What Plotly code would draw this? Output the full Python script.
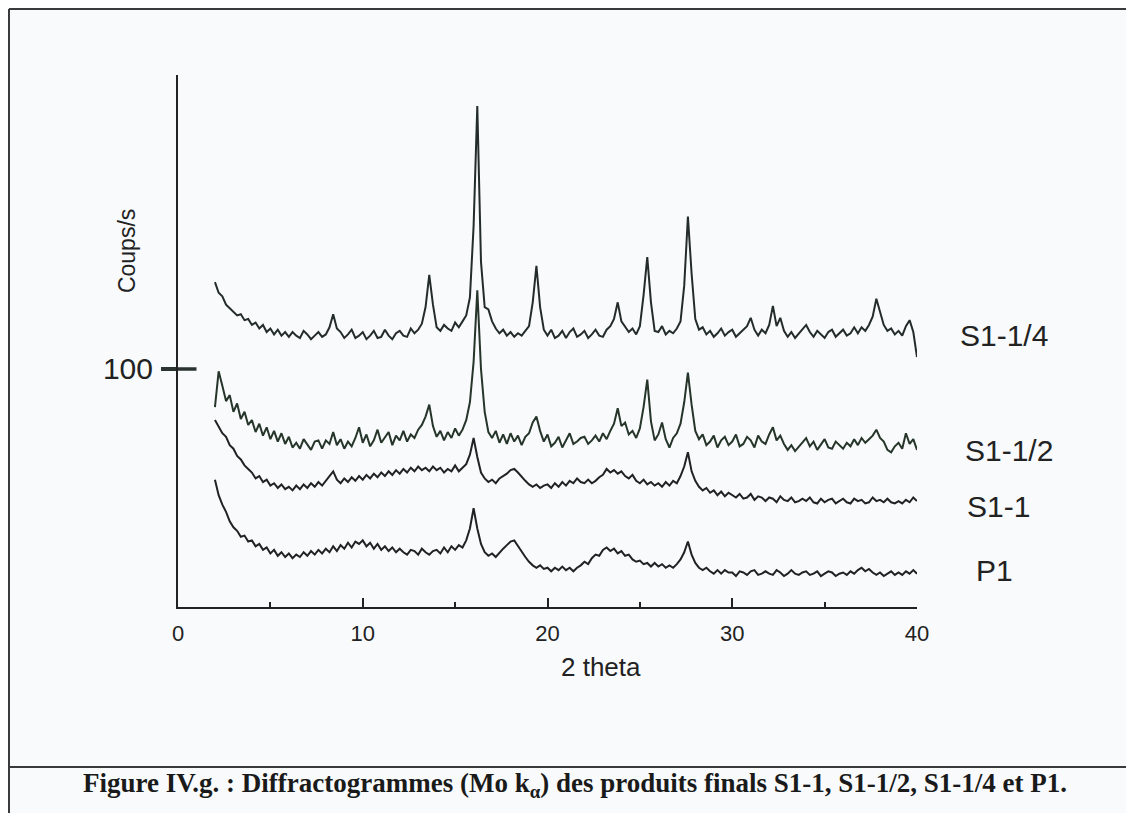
import plotly.graph_objects as go

# 2-theta grid: 2.0 .. 40.0 in steps of 0.2 (191 points)
two_theta = [round(2.0 + 0.2 * i, 1) for i in range(191)]

s1_quarter = [
    136.5, 132.0, 130.5, 127.0, 125.5, 124.0, 122.5, 123.0, 120.5, 121.0,   # 2.0
    118.5, 119.5, 117.0, 118.5, 115.5, 117.0, 114.5, 116.5, 114.0, 115.5,   # 4.0
    113.5, 115.5, 114.0, 113.0, 116.0, 114.5, 112.5, 114.0, 115.5, 113.5,   # 6.0
    114.5, 117.5, 123.0, 117.0, 115.5, 113.0, 114.5, 116.5, 113.0, 114.0,   # 8.0
    115.5, 112.5, 114.0, 116.0, 113.0, 113.5, 116.5, 114.0, 112.5, 115.0,   # 10.0
    116.0, 114.0, 113.5, 117.0, 115.0, 116.5, 119.0, 126.0, 139.5, 127.0,   # 12.0
    117.5, 116.0, 118.5, 117.0, 116.0, 119.5, 117.5, 120.0, 122.5, 130.0,   # 14.0
    160.0, 210.5, 145.0, 126.0, 125.0, 120.0, 117.0, 115.0, 116.5, 114.0,   # 16.0
    115.5, 113.5, 115.0, 114.0, 116.0, 118.0, 128.0, 143.3, 126.0, 116.5,   # 18.0
    114.0, 116.5, 113.0, 114.0, 116.0, 113.0, 115.5, 117.0, 113.5, 114.5,   # 20.0
    116.0, 113.0, 114.5, 116.5, 114.0, 113.5, 116.5, 118.0, 121.0, 128.0,   # 22.0
    120.0, 117.5, 115.5, 117.0, 114.5, 118.0, 131.0, 147.0, 128.0, 116.0,   # 24.0
    115.5, 118.0, 114.5, 116.0, 115.0, 117.0, 120.0, 135.0, 164.0, 140.0,   # 26.0
    121.0, 116.5, 117.5, 114.5, 116.0, 113.5, 115.0, 117.0, 114.0, 115.5,   # 28.0
    116.5, 113.5, 115.0, 116.5, 118.0, 121.5, 116.5, 114.0, 116.5, 115.0,   # 30.0
    118.5, 126.5, 118.0, 121.5, 116.0, 113.5, 115.5, 113.0, 115.0, 116.5,   # 32.0
    118.5, 115.5, 113.5, 116.0, 114.5, 113.0, 115.5, 116.5, 113.5, 115.0,   # 34.0
    116.5, 114.0, 115.0, 117.5, 115.0, 117.5, 116.0, 118.5, 122.0, 129.5,   # 36.0
    124.0, 118.5, 116.0, 117.0, 114.5, 116.0, 114.0, 118.0, 120.5, 115.5,   # 38.0
    105.0,                                                                  # 40.0
]

s1_half = [
    84.0, 99.0, 93.0, 86.5, 89.0, 82.0, 85.5, 79.0, 82.0, 76.5,   # 2.0
    78.5, 73.5, 77.0, 72.0, 75.5, 70.5, 74.0, 69.5, 73.0, 68.5,   # 4.0
    71.5, 67.0, 69.0, 66.5, 70.5, 68.0, 66.0, 69.5, 70.0, 66.5,   # 6.0
    70.0, 68.5, 73.5, 68.0, 70.5, 66.5, 69.5, 67.5, 71.0, 75.5,   # 8.0
    69.0, 72.5, 67.5, 70.0, 74.5, 69.0, 71.5, 73.5, 68.0, 72.0,   # 10.0
    70.0, 74.0, 69.5, 72.5, 71.0, 74.5, 76.5, 80.0, 85.0, 76.0,   # 12.0
    71.5, 74.0, 70.0, 73.5, 71.0, 75.0, 72.0, 74.5, 78.5, 86.0,   # 14.0
    103.0, 133.0, 100.0, 82.0, 73.5, 71.0, 74.0, 69.0, 72.5, 68.5,  # 16.0
    73.0, 69.5, 72.0, 68.0, 71.5, 73.0, 77.5, 80.0, 74.0, 69.5,   # 18.0
    72.5, 67.5, 69.0, 71.5, 67.0, 70.0, 73.0, 68.5, 69.5, 71.0,   # 20.0
    71.5, 68.5, 70.0, 72.0, 69.5, 73.0, 70.5, 74.0, 77.0, 83.5,   # 22.0
    76.0, 77.5, 72.5, 74.0, 71.0, 75.0, 84.0, 95.5, 78.0, 70.0,   # 24.0
    72.5, 77.5, 70.5, 67.0, 71.0, 73.0, 77.0, 86.0, 98.5, 85.0,   # 26.0
    74.0, 70.5, 72.5, 68.0, 69.5, 72.0, 67.0, 70.0, 71.5, 68.0,   # 28.0
    69.5, 72.5, 67.5, 68.5, 71.5, 70.0, 67.0, 72.0, 69.5, 68.5,   # 30.0
    72.5, 75.5, 70.0, 72.0, 68.5, 66.0, 68.0, 65.5, 67.5, 69.0,   # 32.0
    71.0, 67.5, 69.5, 66.0, 68.5, 70.5, 67.0, 66.5, 69.5, 68.0,   # 34.0
    66.5, 69.0, 67.5, 70.5, 68.0, 71.0, 69.0, 70.5, 72.0, 74.5,   # 36.0
    71.0, 69.5, 66.0, 65.0, 67.5, 69.0, 66.5, 73.0, 68.5, 70.5,   # 38.0
    66.0,                                                         # 40.0
]

s1_one = [
    78.6, 76.0, 73.0, 71.5, 68.0, 66.5, 63.5, 62.0, 59.5, 58.0,   # 2.0
    56.5, 54.0, 55.0, 52.5, 53.5, 51.0, 52.0, 50.0, 51.5, 49.5,   # 4.0
    50.5, 49.0, 51.0, 49.5, 51.5, 50.0, 52.0, 50.5, 52.5, 51.0,   # 6.0
    53.0, 55.0, 57.0, 53.5, 52.0, 54.0, 52.5, 54.5, 53.0, 55.0,   # 8.0
    53.5, 55.5, 54.0, 56.0, 54.5, 56.5, 55.0, 57.0, 55.5, 57.5,   # 10.0
    56.0, 58.0, 56.5, 58.5, 57.0, 59.0, 57.5, 58.5, 57.0, 59.0,   # 12.0
    57.5, 58.5, 56.5, 58.0, 57.0, 59.5, 57.0, 58.5, 60.0, 64.0,   # 14.0
    71.0, 63.0, 56.5, 54.0, 52.5, 53.5, 52.0, 54.0, 55.0, 56.0,   # 16.0
    57.5, 58.0, 56.5, 54.5, 53.0, 51.5, 50.5, 51.5, 50.0, 51.0,   # 18.0
    51.5, 50.0, 52.0, 50.5, 52.5, 51.0, 53.0, 52.0, 54.0, 52.5,   # 20.0
    52.0, 53.5, 52.0, 53.0, 54.5, 55.5, 58.0, 56.5, 57.5, 56.0,   # 22.0
    57.0, 55.0, 54.0, 55.5, 53.0, 52.0, 53.5, 51.5, 52.5, 51.0,   # 24.0
    52.0, 50.5, 52.5, 51.0, 53.0, 52.0, 55.0, 59.0, 65.0, 57.0,   # 26.0
    53.0, 50.5, 49.0, 50.0, 48.0, 49.0, 47.0, 48.5, 46.5, 48.0,   # 28.0
    47.0, 46.0, 47.5, 45.5, 46.0, 47.5, 45.0, 46.5, 46.0, 44.5,   # 30.0
    46.0, 45.5, 44.0, 46.5, 45.0, 44.5, 46.0, 44.0, 44.5, 45.5,   # 32.0
    44.5, 46.0, 44.0, 43.5, 45.5, 44.0, 45.0, 45.5, 43.5, 44.5,   # 34.0
    45.5, 44.0, 43.5, 45.5, 44.5, 45.0, 43.5, 44.0, 46.0, 44.5,   # 36.0
    45.0, 44.0, 45.5, 44.0, 43.5, 44.5, 43.5, 45.0, 44.0, 46.0,   # 38.0
    44.5,                                                         # 40.0
]

p1 = [
    53.5, 47.0, 43.0, 40.0, 36.0, 33.5, 32.0, 29.5, 30.0, 27.5,   # 2.0
    28.0, 25.5, 26.5, 24.0, 25.0, 22.5, 24.0, 21.5, 23.0, 21.0,   # 4.0
    22.5, 20.5, 22.0, 21.0, 23.0, 21.5, 23.5, 22.0, 24.0, 22.5,   # 6.0
    24.5, 23.0, 25.5, 23.5, 26.0, 24.5, 27.0, 25.0, 27.5, 26.5,   # 8.0
    28.0, 25.5, 27.0, 24.5, 26.5, 24.0, 25.5, 23.5, 25.0, 23.0,   # 10.0
    24.5, 23.0, 22.0, 24.0, 23.5, 22.0, 24.5, 23.0, 22.0, 23.5,   # 12.0
    24.0, 22.5, 25.0, 23.0, 25.5, 24.0, 26.0, 25.0, 28.0, 33.0,   # 14.0
    41.5, 33.0, 26.5, 23.0, 21.5, 22.5, 21.0, 23.0, 24.5, 26.0,   # 16.0
    27.5, 28.0, 25.5, 23.0, 21.0, 19.0, 17.5, 16.5, 17.5, 16.0,   # 18.0
    16.5, 15.0, 16.5, 15.5, 17.0, 15.5, 16.5, 15.0, 16.5, 17.5,   # 20.0
    19.0, 18.0, 20.5, 22.0, 21.5, 24.0, 25.0, 23.5, 24.5, 22.5,   # 22.0
    23.5, 21.5, 22.0, 20.0, 19.0, 19.5, 18.0, 18.5, 17.0, 18.5,   # 24.0
    17.0, 18.0, 16.5, 17.5, 16.5, 18.0, 20.0, 23.0, 27.5, 22.0,   # 26.0
    18.5, 16.5, 15.5, 16.5, 15.0, 14.0, 15.5, 14.0, 15.5, 14.5,   # 28.0
    14.5, 13.0, 15.0, 14.5, 13.5, 15.0, 15.5, 13.5, 14.0, 15.0,   # 30.0
    14.0, 13.5, 15.5, 14.5, 13.0, 14.0, 15.5, 14.0, 13.5, 14.5,   # 32.0
    15.0, 13.5, 14.0, 15.0, 13.0, 14.0, 15.0, 14.5, 13.0, 14.0,   # 34.0
    14.5, 13.5, 15.0, 14.0, 15.5, 16.5, 15.0, 16.0, 14.5, 13.5,   # 36.0
    14.5, 13.0, 14.0, 15.0, 13.5, 14.5, 13.5, 15.0, 14.0, 15.5,   # 38.0
    14.0,                                                         # 40.0
]

series_names = ["S1-1/4", "S1-1/2", "S1-1", "P1"]
series_values = [s1_quarter, s1_half, s1_one, p1]
series_colors = ["#242c29", "#26352a", "#222222", "#222222"]
# label positions (paper coordinates relative to the plot area)
label_px = [1.0555, 1.0622, 1.065, 1.0771]
label_py = [0.5094, 0.2951, 0.188, 0.0695]

x_ticks = [0, 10, 20, 30, 40]
x_minor = [5, 15, 25, 35]
y_ticks = [100]

BG = "#f8fafc"
SANS = "Liberation Sans, Arial, sans-serif"

fig = go.Figure()
for name, vals, col in zip(series_names, series_values, series_colors):
    fig.add_trace(go.Scatter(x=two_theta, y=vals, mode="lines", name=name,
                             line=dict(color=col, width=2.0), showlegend=False))

for name, lx, ly in zip(series_names, label_px, label_py):
    fig.add_annotation(x=lx, y=ly, xref="paper", yref="paper", text=name, showarrow=False,
                       xanchor="left", yanchor="middle",
                       font=dict(family=SANS, size=30, color="#222"))

# long y tick crossing the axis at 100
for yv in y_ticks:
    fig.add_shape(type="line", xref="x", yref="y", x0=-0.8, x1=1.0, y0=yv, y1=yv,
                  line=dict(color="#2a3330", width=3.5))

# axis titles
fig.add_annotation(x=-0.069, y=0.669, xref="paper", yref="paper", text="Coups/s",
                   textangle=-90, showarrow=False, xanchor="center", yanchor="middle",
                   font=dict(family=SANS, size=23, color="#222"))
fig.add_annotation(x=0.5724, y=-0.1128, xref="paper", yref="paper", text="2 theta",
                   showarrow=False, xanchor="center", yanchor="middle",
                   font=dict(family=SANS, size=26, color="#222"))

# caption
fig.add_annotation(x=0.537, y=-0.3346, xref="paper", yref="paper",
                   text="<b>Figure IV.g. : Diffractogrammes (Mo k<sub>α</sub>) des produits finals S1-1, S1-1/2, S1-1/4 et P1.</b>",
                   showarrow=False, xanchor="center", yanchor="middle",
                   font=dict(family="Liberation Serif, Times New Roman, serif", size=27, color="#1a1a1a"))

# frame lines
frame = dict(color="#3a3a3a", width=2)
fig.add_shape(type="line", xref="paper", yref="paper", x0=-0.2287, x1=1.30, y0=1.1241, y1=1.1241, line=frame)
fig.add_shape(type="line", xref="paper", yref="paper", x0=-0.2287, x1=-0.2287, y0=1.1241, y1=-0.40, line=frame)
fig.add_shape(type="line", xref="paper", yref="paper", x0=-0.2287, x1=1.30, y0=-0.3008, y1=-0.3008, line=frame)

fig.update_layout(
    width=1126, height=805,
    margin=dict(l=170, r=217, t=67, b=206),
    paper_bgcolor=BG, plot_bgcolor=BG,
    xaxis=dict(range=[0, 40], tickvals=x_ticks, ticks="inside", ticklen=9, tickwidth=2,
               tickcolor="#222", showline=True, linecolor="#222", linewidth=2,
               showgrid=False, zeroline=False, ticklabelstandoff=6,
               tickfont=dict(family=SANS, size=22, color="#222"),
               minor=dict(tickvals=x_minor, ticks="inside", ticklen=5, tickwidth=2, tickcolor="#222")),
    yaxis=dict(range=[0, 223.5], tickvals=y_ticks, ticks="outside", ticklen=15, tickwidth=3.5,
               tickcolor="#2a3330", showline=True, linecolor="#222", linewidth=2,
               showgrid=False, zeroline=False, ticklabelstandoff=2,
               tickfont=dict(family=SANS, size=30, color="#222")),
)

fig.write_html("out.html")
